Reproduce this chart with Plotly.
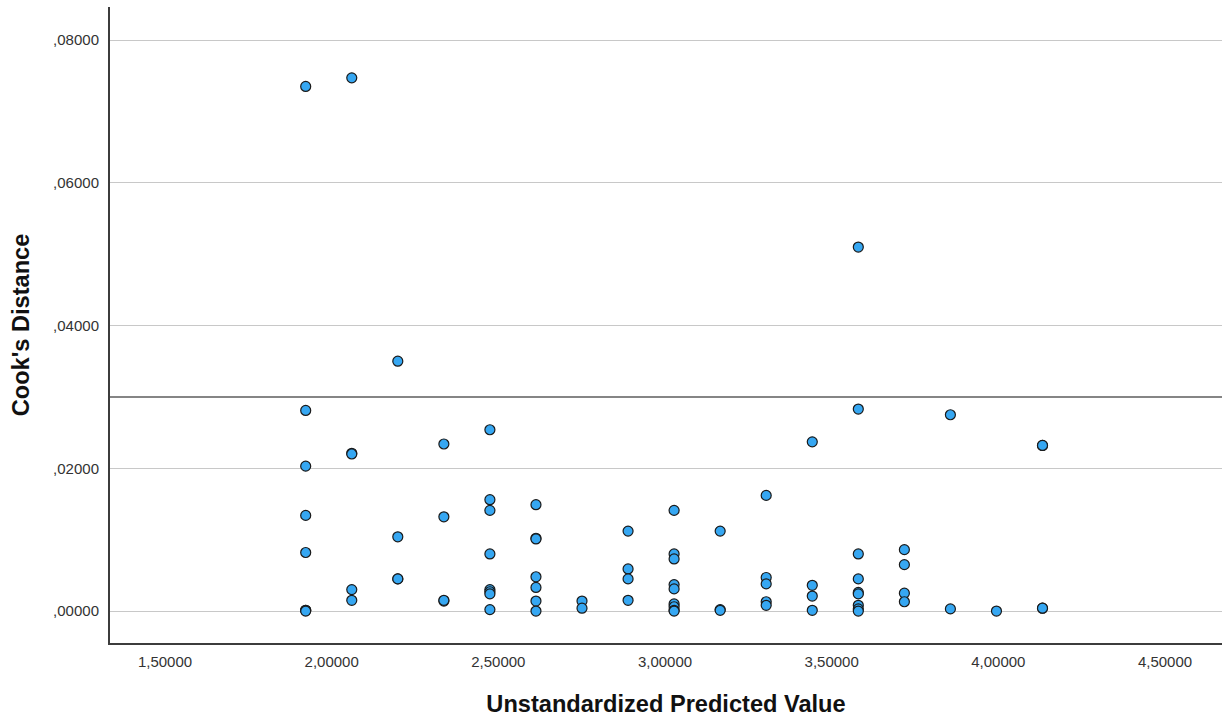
import plotly.graph_objects as go

# ---- data ----
pred_levels = [1.9221, 2.0603, 2.1984, 2.3366, 2.4747, 2.6129, 2.7510, 2.8892,
               3.0273, 3.1655, 3.3036, 3.4418, 3.5799, 3.7181, 3.8562, 3.9944, 4.1325]
cooks_by_level = [
    [0.0735, 0.0281, 0.0203, 0.0134, 0.0082, 0.0001, 0.0001, 0.0000],
    [0.0747, 0.0221, 0.0220, 0.0030, 0.0015],
    [0.0350, 0.0104, 0.0045, 0.0045],
    [0.0234, 0.0132, 0.0014, 0.0015],
    [0.0254, 0.0156, 0.0141, 0.0080, 0.0030, 0.0027, 0.0024, 0.0002],
    [0.0149, 0.0102, 0.0101, 0.0048, 0.0033, 0.0014, 0.0000],
    [0.0014, 0.0004],
    [0.0112, 0.0059, 0.0045, 0.0015],
    [0.0141, 0.0080, 0.0073, 0.0037, 0.0031, 0.0010, 0.0006, 0.0001, 0.0000],
    [0.0112, 0.0002, 0.0001],
    [0.0162, 0.0047, 0.0038, 0.0013, 0.0008],
    [0.0237, 0.0036, 0.0021, 0.0001],
    [0.0510, 0.0283, 0.0080, 0.0045, 0.0026, 0.0024, 0.0008, 0.0003, 0.0000],
    [0.0086, 0.0065, 0.0025, 0.0013],
    [0.0275, 0.0003],
    [0.0000],
    [0.0232, 0.0232, 0.0004, 0.0004],
]
reference_line = 0.03

x_tick_vals = [1.5, 2.0, 2.5, 3.0, 3.5, 4.0, 4.5]
x_tick_text = ["1,50000", "2,00000", "2,50000", "3,00000", "3,50000", "4,00000", "4,50000"]
y_tick_vals = [0.0, 0.02, 0.04, 0.06, 0.08]
y_tick_text = [",00000", ",02000", ",04000", ",06000", ",08000"]

x_title = "Unstandardized Predicted Value"
y_title = "Cook's Distance"

xs, ys = [], []
for xv, vals in zip(pred_levels, cooks_by_level):
    for v in vals:
        xs.append(xv)
        ys.append(v)

fig = go.Figure()
fig.add_trace(go.Scatter(
    x=xs, y=ys, mode="markers",
    marker=dict(size=10, color="#36A7F2", line=dict(width=1.2, color="#1a1a1a")),
    showlegend=False, hoverinfo="x+y",
))

fig.add_shape(type="line", xref="paper", x0=0, x1=1, yref="y",
              y0=reference_line, y1=reference_line,
              line=dict(color="#858585", width=2), layer="below")

font_family = "Liberation Sans, Arial, sans-serif"
fig.update_layout(
    width=1222, height=719,
    margin=dict(l=110, r=0, t=7, b=76),
    paper_bgcolor="white", plot_bgcolor="white",
    font=dict(family=font_family, color="#333333"),
    xaxis=dict(
        range=[1.335, 4.671], tickvals=x_tick_vals, ticktext=x_tick_text,
        tickfont=dict(size=15, color="#333333"),
        showgrid=False, zeroline=False,
        showline=True, linecolor="#3c3c3c", linewidth=2,
        ticks="", ticklen=0, ticklabelstandoff=4,
        title=dict(text="<b>" + x_title + "</b>",
                   font=dict(size=23.6, color="#111111"), standoff=26),
    ),
    yaxis=dict(
        range=[-0.00448, 0.08463], tickvals=y_tick_vals, ticktext=y_tick_text,
        tickfont=dict(size=15, color="#333333"),
        showgrid=True, gridcolor="#c8c8c8", gridwidth=1, zeroline=False,
        showline=True, linecolor="#3c3c3c", linewidth=2,
        ticks="", ticklen=0, ticklabelstandoff=6,
        title=dict(text="<b>" + y_title + "</b>",
                   font=dict(size=23.6, color="#111111"), standoff=17),
    ),
)

fig.write_html("out.html", config={"displayModeBar": False},
               post_script="document.body.style.margin='0';")
